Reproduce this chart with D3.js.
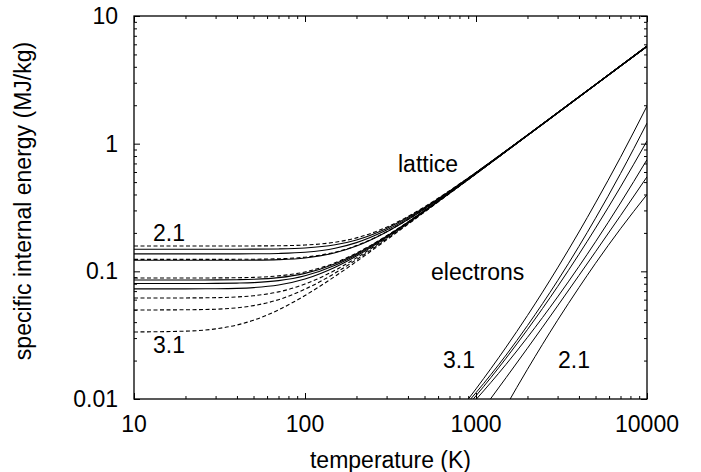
<!DOCTYPE html>
<html>
<head>
<meta charset="utf-8">
<script src="https://cdn.jsdelivr.net/npm/d3@7/dist/d3.min.js"></script>
<style>
  html, body { margin: 0; padding: 0; background: #fff; }
  svg { display: block; }
  text { font-family: "Liberation Sans", Arial, Helvetica, sans-serif; fill: #000; }
</style>
</head>
<body>
<svg id="chart" width="701" height="472"></svg>
<script>
// Temperature grid (K) for the lattice curves
const latticeT = [10, 20, 30, 40, 50, 70, 100, 150, 200, 300, 400, 500, 700, 1000, 2000, 5000, 10000];

// Lattice specific internal energy (MJ/kg), one array per material
const lattice01 = [0.158, 0.158, 0.158, 0.158, 0.1581, 0.1586, 0.1607, 0.169, 0.1828, 0.2217, 0.2688, 0.320, 0.428, 0.595, 1.168, 2.903, 5.801];
const lattice02 = [0.149, 0.149, 0.149, 0.149, 0.1492, 0.1498, 0.1522, 0.1614, 0.1762, 0.2168, 0.265, 0.3167, 0.4252, 0.5936, 1.1669, 2.9027, 5.8014];
const lattice03 = [0.137, 0.137, 0.137, 0.1371, 0.1373, 0.1381, 0.1410, 0.1515, 0.1678, 0.2105, 0.260, 0.3127, 0.4223, 0.5915, 1.1657, 2.9023, 5.8011];
const lattice04 = [0.124, 0.124, 0.124, 0.1242, 0.1244, 0.1254, 0.1291, 0.1413, 0.1591, 0.2042, 0.2551, 0.3087, 0.4194, 0.5894, 1.1647, 2.9019, 5.8009];
const lattice05 = [0.122, 0.122, 0.122, 0.1222, 0.1224, 0.1235, 0.1273, 0.1398, 0.1579, 0.2033, 0.2543, 0.3081, 0.4190, 0.5891, 1.1645, 2.9019, 5.8009];
const lattice06 = [0.0887, 0.0887, 0.0888, 0.0891, 0.0897, 0.0921, 0.0989, 0.1166, 0.1390, 0.1898, 0.2439, 0.2995, 0.4128, 0.5848, 1.1624, 2.9009, 5.8004];
const lattice07 = [0.0855, 0.0855, 0.0857, 0.0860, 0.0866, 0.0892, 0.0964, 0.1147, 0.1375, 0.1887, 0.2431, 0.2989, 0.4125, 0.5845, 1.1622, 2.9008, 5.8004];
const lattice08 = [0.0803, 0.0803, 0.0805, 0.0809, 0.0816, 0.0846, 0.0924, 0.1117, 0.1351, 0.1870, 0.2418, 0.2979, 0.4117, 0.5840, 1.1620, 2.9008, 5.8003];
const lattice09 = [0.0729, 0.0729, 0.0731, 0.0736, 0.0746, 0.0781, 0.0870, 0.1076, 0.1318, 0.1848, 0.2401, 0.2965, 0.4107, 0.5833, 1.1617, 2.9007, 5.8003];
const lattice10 = [0.0618, 0.0619, 0.0622, 0.0630, 0.0644, 0.0690, 0.0795, 0.1020, 0.1275, 0.1817, 0.2378, 0.2947, 0.4094, 0.5824, 1.1612, 2.9006, 5.8002];
const lattice11 = [0.0498, 0.0500, 0.0505, 0.0518, 0.0539, 0.0600, 0.0724, 0.0969, 0.1235, 0.1790, 0.2358, 0.2930, 0.4082, 0.5815, 1.1609, 2.9004, 5.8002];
const lattice12 = [0.0335, 0.0340, 0.0354, 0.0380, 0.0414, 0.0499, 0.0647, 0.0915, 0.1194, 0.1763, 0.2337, 0.2914, 0.4070, 0.5807, 1.1604, 2.9002, 5.8001];

const latticeSeries = [
  { values: lattice01, dashed: true },
  { values: lattice02, dashed: false },
  { values: lattice03, dashed: false },
  { values: lattice04, dashed: true },
  { values: lattice05, dashed: false },
  { values: lattice06, dashed: true },
  { values: lattice07, dashed: false },
  { values: lattice08, dashed: false },
  { values: lattice09, dashed: false },
  { values: lattice10, dashed: true },
  { values: lattice11, dashed: true },
  { values: lattice12, dashed: true }
];

// Electronic contribution (MJ/kg)
const electronT = [800, 1000, 1500, 2000, 3000, 4000, 5000, 7000, 10000];
const electron1 = [0.0081, 0.0120, 0.0255, 0.0451, 0.1064, 0.2033, 0.3436, 0.782, 1.97];
const electron2 = [0.0079, 0.0112, 0.0221, 0.0376, 0.0844, 0.157, 0.2606, 0.583, 1.45];
const electron3 = [0.0075, 0.0106, 0.0209, 0.0350, 0.0759, 0.136, 0.218, 0.458, 1.05];
const electron4 = [0.0071, 0.0099, 0.0187, 0.0304, 0.0630, 0.1092, 0.1704, 0.343, 0.75];
const electron5 = [0.0046, 0.0070, 0.0147, 0.0250, 0.0536, 0.0928, 0.1424, 0.273, 0.55];
const electron6 = [0.0019, 0.0033, 0.0088, 0.0171, 0.0414, 0.0746, 0.1156, 0.2157, 0.40];
const electronSeries = [electron1, electron2, electron3, electron4, electron5, electron6];

// Axis ticks
const xMajor = [10, 100, 1000, 10000];
const yMajor = [0.01, 0.1, 1, 10];
const xTickLabels = ["10", "100", "1000", "10000"];
const yTickLabels = ["0.01", "0.1", "1", "10"];

const svg = d3.select("#chart");
const plotLeft = 134, plotRight = 647, plotTop = 16, plotBottom = 399;
const fontSize = 23;

const x = d3.scaleLog().domain([10, 10000]).range([plotLeft, plotRight]);
const y = d3.scaleLog().domain([0.01, 10]).range([plotBottom, plotTop]);

function minorTicks(majors) {
  const out = [];
  for (let i = 0; i < majors.length - 1; i++) {
    for (let k = 2; k <= 9; k++) out.push(majors[i] * k);
  }
  return out;
}
const xMinor = minorTicks(xMajor);
const yMinor = minorTicks(yMajor);

svg.append("defs").append("clipPath").attr("id", "plotclip")
  .append("rect").attr("x", plotLeft).attr("y", plotTop)
  .attr("width", plotRight - plotLeft).attr("height", plotBottom - plotTop);

const plot = svg.append("g").attr("clip-path", "url(#plotclip)");

const line = d3.line()
  .x(d => x(d[0]))
  .y(d => y(d[1]))
  .curve(d3.curveMonotoneX);

plot.selectAll("path.lattice")
  .data(latticeSeries)
  .join("path")
  .attr("class", "lattice")
  .attr("d", s => line(latticeT.map((t, i) => [t, s.values[i]])))
  .attr("fill", "none")
  .attr("stroke", "#000")
  .attr("stroke-width", 1.1)
  .attr("stroke-dasharray", s => s.dashed ? "4,2.5" : null);

plot.selectAll("path.electron")
  .data(electronSeries)
  .join("path")
  .attr("class", "electron")
  .attr("d", v => line(electronT.map((t, i) => [t, v[i]])))
  .attr("fill", "none")
  .attr("stroke", "#000")
  .attr("stroke-width", 1);

// Axes: inward ticks on all four sides
function styleAxis(g) {
  g.select(".domain").remove();
  g.selectAll(".tick line").attr("stroke", "#000").attr("stroke-width", 1);
  g.selectAll(".tick text").remove();
}
const majorLen = 6, minorLen = 3;

svg.append("g").attr("transform", `translate(0,${plotBottom})`)
  .call(d3.axisBottom(x).tickValues(xMajor).tickSize(-majorLen)).call(styleAxis);
svg.append("g").attr("transform", `translate(0,${plotBottom})`)
  .call(d3.axisBottom(x).tickValues(xMinor).tickSize(-minorLen)).call(styleAxis);
svg.append("g").attr("transform", `translate(0,${plotTop})`)
  .call(d3.axisTop(x).tickValues(xMajor).tickSize(-majorLen)).call(styleAxis);
svg.append("g").attr("transform", `translate(0,${plotTop})`)
  .call(d3.axisTop(x).tickValues(xMinor).tickSize(-minorLen)).call(styleAxis);
svg.append("g").attr("transform", `translate(${plotLeft},0)`)
  .call(d3.axisLeft(y).tickValues(yMajor).tickSize(-majorLen)).call(styleAxis);
svg.append("g").attr("transform", `translate(${plotLeft},0)`)
  .call(d3.axisLeft(y).tickValues(yMinor).tickSize(-minorLen)).call(styleAxis);
svg.append("g").attr("transform", `translate(${plotRight},0)`)
  .call(d3.axisRight(y).tickValues(yMajor).tickSize(-majorLen)).call(styleAxis);
svg.append("g").attr("transform", `translate(${plotRight},0)`)
  .call(d3.axisRight(y).tickValues(yMinor).tickSize(-minorLen)).call(styleAxis);

// Frame
svg.append("rect")
  .attr("x", plotLeft).attr("y", plotTop)
  .attr("width", plotRight - plotLeft).attr("height", plotBottom - plotTop)
  .attr("fill", "none").attr("stroke", "#000").attr("stroke-width", 1.3);

// Tick labels
svg.append("g").selectAll("text")
  .data(xMajor)
  .join("text")
  .attr("x", d => x(d))
  .attr("y", 432)
  .attr("text-anchor", "middle")
  .attr("font-size", fontSize)
  .text((d, i) => xTickLabels[i]);

svg.append("g").selectAll("text")
  .data(yMajor)
  .join("text")
  .attr("x", 118)
  .attr("y", d => y(d) + 8)
  .attr("text-anchor", "end")
  .attr("font-size", fontSize)
  .text((d, i) => yTickLabels[i]);

// Axis titles
svg.append("text")
  .attr("x", (plotLeft + plotRight) / 2)
  .attr("y", 468)
  .attr("text-anchor", "middle")
  .attr("font-size", fontSize)
  .text("temperature (K)");

svg.append("text")
  .attr("transform", `translate(31,201) rotate(-90)`)
  .attr("text-anchor", "middle")
  .attr("font-size", fontSize)
  .text("specific internal energy (MJ/kg)");

// Annotations
const notes = [
  { text: "lattice", x: 398, y: 172 },
  { text: "electrons", x: 431, y: 280 },
  { text: "2.1", x: 153, y: 241 },
  { text: "3.1", x: 153, y: 353 },
  { text: "3.1", x: 443, y: 368 },
  { text: "2.1", x: 558, y: 368 }
];
svg.append("g").selectAll("text")
  .data(notes)
  .join("text")
  .attr("x", d => d.x)
  .attr("y", d => d.y)
  .attr("font-size", fontSize)
  .text(d => d.text);
</script>
</body>
</html>
